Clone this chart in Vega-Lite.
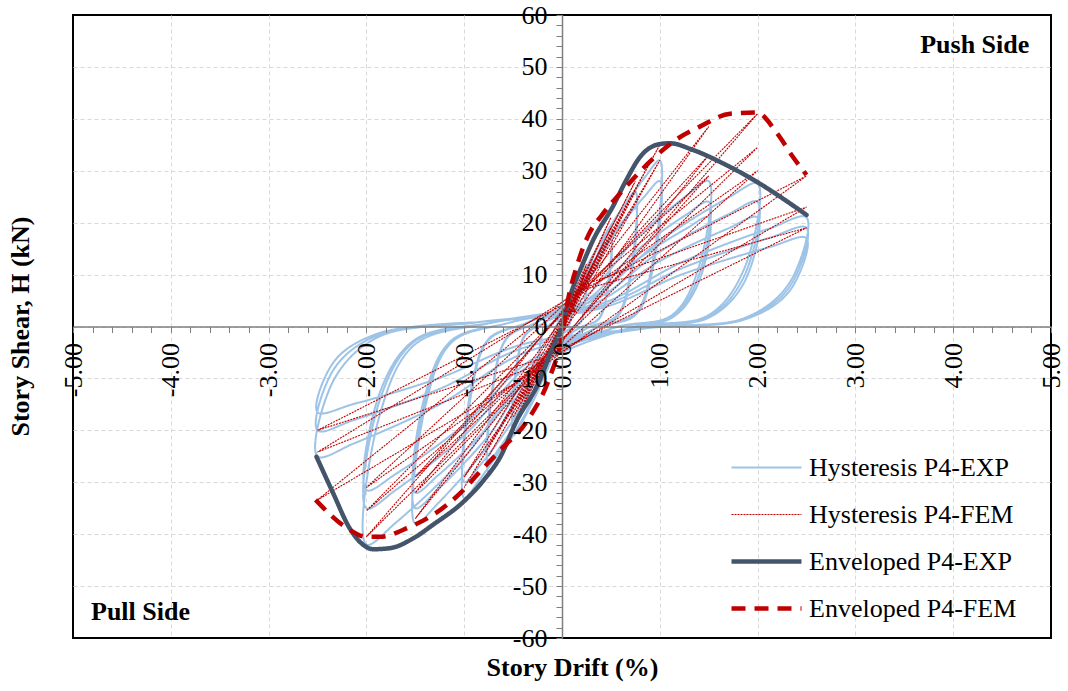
{
  "$schema": "https://vega.github.io/schema/vega-lite/v6.json",
  "width": 978,
  "height": 623,
  "autosize": {"type": "none"},
  "padding": {"left": 73, "top": 15, "right": 17, "bottom": 53},
  "background": "white",
  "config": {"view": {"stroke": "#000000", "strokeWidth": 2}, "font": "Liberation Serif"},
  "resolve": {"axis": {"x": "independent", "y": "independent"}},
  "datasets": {
    "hystExp": [
      {"x":0,"y":0},
      {"x":0.015,"y":1.0},{"x":0.05,"y":3.0},{"x":0.085,"y":4.5},{"x":0.1,"y":5},{"x":0.093,"y":2.0},{"x":0.075,"y":0.4},{"x":0.035,"y":-0.3},{"x":-0.015,"y":-1.0},{"x":-0.05,"y":-3.0},{"x":-0.085,"y":-4.5},{"x":-0.1,"y":-5},{"x":-0.093,"y":-2.0},{"x":-0.075,"y":-0.4},{"x":-0.035,"y":0.8},
      {"x":0.04,"y":2.2},{"x":0.125,"y":6.6},{"x":0.21,"y":9.9},{"x":0.25,"y":11},{"x":0.23,"y":4.4},{"x":0.19,"y":0.9},{"x":0.09,"y":-0.3},{"x":-0.04,"y":-2.4},{"x":-0.125,"y":-7.2},{"x":-0.21,"y":-10.8},{"x":-0.25,"y":-12},{"x":-0.23,"y":-4.8},{"x":-0.19,"y":-1.0},{"x":-0.09,"y":0.8},
      {"x":0.04,"y":2.0},{"x":0.125,"y":6.0},{"x":0.21,"y":9.0},{"x":0.25,"y":10},{"x":0.23,"y":4.0},{"x":0.19,"y":0.8},{"x":0.09,"y":-0.3},{"x":-0.04,"y":-2.2},{"x":-0.125,"y":-6.6},{"x":-0.21,"y":-9.9},{"x":-0.25,"y":-11},{"x":-0.23,"y":-4.4},{"x":-0.19,"y":-0.9},{"x":-0.09,"y":0.8},
      {"x":0.075,"y":3.8},{"x":0.25,"y":11.4},{"x":0.425,"y":17.1},{"x":0.5,"y":19},{"x":0.465,"y":7.6},{"x":0.375,"y":1.5},{"x":0.175,"y":-0.3},{"x":-0.075,"y":-4.2},{"x":-0.25,"y":-12.6},{"x":-0.425,"y":-18.9},{"x":-0.5,"y":-21},{"x":-0.465,"y":-8.4},{"x":-0.375,"y":-1.7},{"x":-0.175,"y":0.8},
      {"x":0.075,"y":3.4},{"x":0.25,"y":10.2},{"x":0.425,"y":15.3},{"x":0.5,"y":17},{"x":0.465,"y":6.8},{"x":0.375,"y":1.4},{"x":0.175,"y":-0.3},{"x":-0.075,"y":-3.8},{"x":-0.25,"y":-11.4},{"x":-0.425,"y":-17.1},{"x":-0.5,"y":-19},{"x":-0.465,"y":-7.6},{"x":-0.375,"y":-1.5},{"x":-0.175,"y":0.8},
      {"x":0.11,"y":5.2},{"x":0.375,"y":15.6},{"x":0.64,"y":23.4},{"x":0.75,"y":26},{"x":0.70,"y":10.4},{"x":0.56,"y":2.1},{"x":0.26,"y":-0.3},{"x":-0.11,"y":-5.6},{"x":-0.375,"y":-16.8},{"x":-0.64,"y":-25.2},{"x":-0.75,"y":-28},{"x":-0.70,"y":-11.2},{"x":-0.56,"y":-2.2},{"x":-0.26,"y":0.8},
      {"x":0.11,"y":4.6},{"x":0.375,"y":13.8},{"x":0.64,"y":20.7},{"x":0.75,"y":23},{"x":0.70,"y":9.2},{"x":0.56,"y":1.8},{"x":0.26,"y":-0.3},{"x":-0.11,"y":-5.2},{"x":-0.375,"y":-15.6},{"x":-0.64,"y":-23.4},{"x":-0.75,"y":-26},{"x":-0.70,"y":-10.4},{"x":-0.56,"y":-2.1},{"x":-0.26,"y":0.8},
      {"x":0.15,"y":6.4},{"x":0.5,"y":19.2},{"x":0.85,"y":28.8},{"x":1.0,"y":32},{"x":0.93,"y":12.8},{"x":0.75,"y":2.6},{"x":0.35,"y":-0.3},{"x":-0.15,"y":-6.6},{"x":-0.5,"y":-19.8},{"x":-0.85,"y":-29.7},{"x":-1.0,"y":-33},{"x":-0.93,"y":-13.2},{"x":-0.75,"y":-2.6},{"x":-0.35,"y":0.8},
      {"x":0.15,"y":5.6},{"x":0.5,"y":16.8},{"x":0.85,"y":25.2},{"x":1.0,"y":28},{"x":0.93,"y":11.2},{"x":0.75,"y":2.2},{"x":0.35,"y":-0.3},{"x":-0.15,"y":-6.0},{"x":-0.5,"y":-18.0},{"x":-0.85,"y":-27.0},{"x":-1.0,"y":-30},{"x":-0.93,"y":-12.0},{"x":-0.75,"y":-2.4},{"x":-0.35,"y":0.8},
      {"x":0.225,"y":5.6},{"x":0.75,"y":16.8},{"x":1.275,"y":25.2},{"x":1.5,"y":28},{"x":1.395,"y":11.2},{"x":1.125,"y":2.2},{"x":0.525,"y":-0.3},{"x":-0.225,"y":-7.6},{"x":-0.75,"y":-22.8},{"x":-1.275,"y":-34.2},{"x":-1.5,"y":-38},{"x":-1.395,"y":-15.2},{"x":-1.125,"y":-3.0},{"x":-0.525,"y":0.8},
      {"x":0.225,"y":4.8},{"x":0.75,"y":14.4},{"x":1.275,"y":21.6},{"x":1.5,"y":24},{"x":1.395,"y":9.6},{"x":1.125,"y":1.9},{"x":0.525,"y":-0.3},{"x":-0.225,"y":-7.0},{"x":-0.75,"y":-21.0},{"x":-1.275,"y":-31.5},{"x":-1.5,"y":-35},{"x":-1.395,"y":-14.0},{"x":-1.125,"y":-2.8},{"x":-0.525,"y":0.8},
      {"x":0.225,"y":4.2},{"x":0.75,"y":12.6},{"x":1.275,"y":18.9},{"x":1.5,"y":21},{"x":1.395,"y":8.4},{"x":1.125,"y":1.7},{"x":0.525,"y":-0.3},{"x":-0.225,"y":-6.4},{"x":-0.75,"y":-19.2},{"x":-1.275,"y":-28.8},{"x":-1.5,"y":-32},{"x":-1.395,"y":-12.8},{"x":-1.125,"y":-2.6},{"x":-0.525,"y":0.8},
      {"x":0.3,"y":5.5},{"x":1.0,"y":16.5},{"x":1.7,"y":24.8},{"x":2.0,"y":27.5},{"x":1.86,"y":11.0},{"x":1.5,"y":2.2},{"x":0.7,"y":-0.3},{"x":-0.3,"y":-8.4},{"x":-1.0,"y":-25.2},{"x":-1.7,"y":-37.8},{"x":-2.0,"y":-42},{"x":-1.86,"y":-16.8},{"x":-1.5,"y":-3.4},{"x":-0.7,"y":0.8},
      {"x":0.3,"y":4.8},{"x":1.0,"y":14.4},{"x":1.7,"y":21.6},{"x":2.0,"y":24},{"x":1.86,"y":9.6},{"x":1.5,"y":1.9},{"x":0.7,"y":-0.3},{"x":-0.3,"y":-7.0},{"x":-1.0,"y":-21.0},{"x":-1.7,"y":-31.5},{"x":-2.0,"y":-35},{"x":-1.86,"y":-14.0},{"x":-1.5,"y":-2.8},{"x":-0.7,"y":0.8},
      {"x":0.3,"y":4.2},{"x":1.0,"y":12.6},{"x":1.7,"y":18.9},{"x":2.0,"y":21},{"x":1.86,"y":8.4},{"x":1.5,"y":1.7},{"x":0.7,"y":-0.3},{"x":-0.3,"y":-6.3},{"x":-1.0,"y":-18.9},{"x":-1.7,"y":-28.4},{"x":-2.0,"y":-31.5},{"x":-1.86,"y":-12.6},{"x":-1.5,"y":-2.5},{"x":-0.7,"y":0.8},
      {"x":0.375,"y":4.2},{"x":1.25,"y":12.6},{"x":2.125,"y":18.9},{"x":2.5,"y":21},{"x":2.325,"y":8.4},{"x":1.875,"y":1.7},{"x":0.875,"y":-0.3},{"x":-0.375,"y":-5.0},{"x":-1.25,"y":-15.0},{"x":-2.125,"y":-22.5},{"x":-2.5,"y":-25},{"x":-2.325,"y":-10.0},{"x":-1.875,"y":-2.0},{"x":-0.875,"y":0.8},
      {"x":0.375,"y":3.8},{"x":1.25,"y":11.4},{"x":2.125,"y":17.1},{"x":2.5,"y":19},{"x":2.325,"y":7.6},{"x":1.875,"y":1.5},{"x":0.875,"y":-0.3},{"x":-0.375,"y":-4.0},{"x":-1.25,"y":-12.0},{"x":-2.125,"y":-18.0},{"x":-2.5,"y":-20},{"x":-2.325,"y":-8.0},{"x":-1.875,"y":-1.6},{"x":-0.875,"y":0.8},
      {"x":0.375,"y":3.4},{"x":1.25,"y":10.2},{"x":2.125,"y":15.3},{"x":2.5,"y":17},{"x":2.325,"y":6.8},{"x":1.875,"y":1.4},{"x":0.875,"y":-0.3},{"x":-0.375,"y":-3.3},{"x":-1.25,"y":-9.9},{"x":-2.125,"y":-14.9},{"x":-2.5,"y":-16.5},{"x":-2.325,"y":-6.6},{"x":-1.875,"y":-1.3},{"x":-0.875,"y":0.8}
    ],
    "hystFem": [
      {"x":0,"y":0},
      {"x":0.1,"y":5},{"x":-0.05,"y":-1},{"x":-0.1,"y":-5},{"x":0.05,"y":1},
      {"x":0.25,"y":12},{"x":-0.08,"y":-2},{"x":-0.25,"y":-11},{"x":0.08,"y":2},
      {"x":0.25,"y":11},{"x":-0.06,"y":-2.5},{"x":-0.25,"y":-10},{"x":0.06,"y":2.5},
      {"x":0.5,"y":21},{"x":-0.1,"y":-3},{"x":-0.5,"y":-19},{"x":0.1,"y":3},
      {"x":0.5,"y":19},{"x":-0.08,"y":-3.5},{"x":-0.5,"y":-17.5},{"x":0.08,"y":3.5},
      {"x":0.75,"y":28},{"x":-0.12,"y":-4},{"x":-0.75,"y":-25},{"x":0.12,"y":4},
      {"x":0.75,"y":26},{"x":-0.1,"y":-4.5},{"x":-0.75,"y":-23},{"x":0.1,"y":4.5},
      {"x":1.0,"y":35},{"x":-0.15,"y":-5},{"x":-1.0,"y":-31},{"x":0.15,"y":5},
      {"x":1.0,"y":32},{"x":-0.12,"y":-5.5},{"x":-1.0,"y":-29},{"x":0.12,"y":5.5},
      {"x":1.5,"y":38.5},{"x":-0.18,"y":-6},{"x":-1.5,"y":-37},{"x":0.18,"y":6},
      {"x":1.5,"y":33},{"x":-0.15,"y":-6.5},{"x":-1.5,"y":-32},{"x":0.15,"y":6.5},
      {"x":1.5,"y":29},{"x":-0.12,"y":-5},{"x":-1.5,"y":-29},{"x":0.12,"y":5},
      {"x":2.0,"y":41},{"x":-0.2,"y":-7},{"x":-2.0,"y":-40.5},{"x":0.2,"y":7},
      {"x":2.0,"y":34.5},{"x":-0.18,"y":-6},{"x":-2.0,"y":-35.5},{"x":0.18,"y":6},
      {"x":2.0,"y":30},{"x":-0.15,"y":-6.5},{"x":-2.0,"y":-31},{"x":0.15,"y":6.5},
      {"x":2.5,"y":29},{"x":-0.22,"y":-8},{"x":-2.5,"y":-33.4},{"x":0.22,"y":8},
      {"x":2.5,"y":23},{"x":-0.2,"y":-7},{"x":-2.5,"y":-24.2},{"x":0.2,"y":7},
      {"x":2.5,"y":19},{"x":-0.18,"y":-6},{"x":-2.5,"y":-20},{"x":0.1,"y":5}
    ],
    "envExp": [
      {"x":-2.51,"y":-25.1},{"x":-2.34,"y":-32.1},{"x":-2.17,"y":-38.9},{"x":-2.03,"y":-42.1},{"x":-1.93,"y":-42.9},{"x":-1.76,"y":-42.7},{"x":-1.52,"y":-40.8},{"x":-1.32,"y":-38.2},{"x":-1.01,"y":-33.8},{"x":-0.80,"y":-29.6},{"x":-0.63,"y":-25.1},{"x":-0.46,"y":-18.0},{"x":-0.24,"y":-10.9},{"x":-0.105,"y":-4.5},{"x":0,"y":0},{"x":0.08,"y":5.7},{"x":0.2,"y":11.5},{"x":0.32,"y":16.7},{"x":0.52,"y":23.1},{"x":0.66,"y":28.3},{"x":0.80,"y":32.7},{"x":0.97,"y":35.0},{"x":1.10,"y":35.3},{"x":1.34,"y":34.0},{"x":1.68,"y":31.1},{"x":1.99,"y":27.9},{"x":2.23,"y":25.0},{"x":2.50,"y":21.5}
    ],
    "envFem": [
      {"x":-2.52,"y":-33.4},{"x":-2.2,"y":-38.8},{"x":-2.0,"y":-40.5},{"x":-1.86,"y":-40.5},{"x":-1.58,"y":-38.8},{"x":-1.32,"y":-36.3},{"x":-1.04,"y":-32.1},{"x":-0.84,"y":-28.0},{"x":-0.63,"y":-23.8},{"x":-0.35,"y":-18.0},{"x":-0.12,"y":-9.5},{"x":0,"y":-2},{"x":0.06,"y":5},{"x":0.15,"y":11.5},{"x":0.27,"y":17.6},{"x":0.41,"y":21.5},{"x":0.64,"y":26.6},{"x":0.88,"y":31.4},{"x":1.16,"y":35.9},{"x":1.41,"y":38.5},{"x":1.72,"y":41.0},{"x":1.99,"y":41.2},{"x":2.2,"y":37.2},{"x":2.36,"y":32.7},{"x":2.5,"y":29.2}
    ],
    "marker": [{"x":0.08,"y":3.8}],
    "notes": [{"x":4.22,"y":54.2,"t":"Push Side"},{"x":-4.31,"y":-55.0,"t":"Pull Side"}]
  },
  "encoding": {
    "x": {"field": "x", "type": "quantitative", "scale": {"domain": [-5, 5], "nice": false, "zero": false}, "axis": null},
    "y": {"field": "y", "type": "quantitative", "scale": {"domain": [-60, 60], "nice": false, "zero": false}, "axis": null}
  },
  "layer": [
    {
      "data": {"name": "hystExp"},
      "mark": {"type": "line", "interpolate": "catmull-rom", "strokeJoin": "round"},
      "encoding": {
        "x": {"field": "x", "type": "quantitative", "scale": {"domain": [-5, 5], "nice": false, "zero": false},
          "axis": {"orient": "bottom", "zindex": 0, "values": [-4,-3,-2,-1,0,1,2,3,4], "grid": true, "gridColor": "#D9D9D9", "gridDash": [4, 3], "gridWidth": 1, "labels": false, "ticks": false, "domain": false, "title": null}},
        "y": {"field": "y", "type": "quantitative", "scale": {"domain": [-60, 60], "nice": false, "zero": false},
          "axis": {"orient": "left", "zindex": 0, "values": [-50,-40,-30,-20,-10,0,10,20,30,40,50], "grid": true, "gridColor": "#D9D9D9", "gridDash": [4, 3], "gridWidth": 1, "labels": false, "ticks": false, "domain": false, "title": null}},
        "order": {"value": null},
        "color": {"datum": "Hysteresis P4-EXP", "type": "nominal",
          "scale": {"domain": ["Hysteresis P4-EXP", "Hysteresis P4-FEM", "Enveloped P4-EXP", "Enveloped P4-FEM"], "range": ["#9DC3E6", "#C00000", "#44546A", "#C00000"]},
          "legend": {"title": null, "orient": "none", "legendX": 656, "legendY": 429, "symbolType": "stroke", "symbolSize": 4900, "clipHeight": 47, "labelFont": "Liberation Serif", "labelFontSize": 26, "labelColor": "#000000", "labelOffset": 5, "rowPadding": 0, "labelLimit": 400}},
        "strokeDash": {"datum": "Hysteresis P4-EXP", "type": "nominal",
          "scale": {"domain": ["Hysteresis P4-EXP", "Hysteresis P4-FEM", "Enveloped P4-EXP", "Enveloped P4-FEM"], "range": [[1, 0], [2, 1], [1, 0], [14, 9]]}},
        "strokeWidth": {"datum": "Hysteresis P4-EXP", "type": "nominal",
          "scale": {"type": "ordinal", "domain": ["Hysteresis P4-EXP", "Hysteresis P4-FEM", "Enveloped P4-EXP", "Enveloped P4-FEM"], "range": [2, 1.1, 4.5, 4.5]}}
      }
    },
    {
      "data": {"name": "hystFem"},
      "mark": {"type": "line", "interpolate": "linear"},
      "encoding": {
        "x": {"field": "x", "type": "quantitative", "scale": {"domain": [-5, 5], "nice": false, "zero": false},
          "axis": {
            "orient": "bottom", "offset": -311.5, "zindex": 1, "grid": false,
            "values": [-5,-4.8,-4.6,-4.4,-4.2,-4,-3.8,-3.6,-3.4,-3.2,-3,-2.8,-2.6,-2.4,-2.2,-2,-1.8,-1.6,-1.4,-1.2,-1,-0.8,-0.6,-0.4,-0.2,0,0.2,0.4,0.6,0.8,1,1.2,1.4,1.6,1.8,2,2.2,2.4,2.6,2.8,3,3.2,3.4,3.6,3.8,4,4.2,4.4,4.6,4.8,5],
            "labelExpr": "datum.value % 1 === 0 ? (datum.value < 0 ? '-' : '') + format(abs(datum.value), '.2f') : ''",
            "labelAngle": 270, "labelAlign": "right", "labelBaseline": "middle",
            "labelFont": "Liberation Serif", "labelFontSize": 26, "labelColor": "#000000",
            "labelPadding": 10, "labelFlush": false, "labelOverlap": false,
            "tickSize": 6, "tickColor": "#7F7F7F", "tickWidth": 1,
            "domainColor": "#7F7F7F", "domainWidth": 1.5,
            "title": "Story Drift (%)", "titleFont": "Liberation Serif", "titleFontSize": 26,
            "titleFontWeight": "bold", "titleColor": "#000000",
            "titleX": 499, "titleY": 341, "titleAlign": "center", "titleBaseline": "middle"
          }
        },
        "y": {"field": "y", "type": "quantitative", "scale": {"domain": [-60, 60], "nice": false, "zero": false},
          "axis": {
            "orient": "left", "offset": -489, "zindex": 1, "grid": false,
            "values": [-60,-58,-56,-54,-52,-50,-48,-46,-44,-42,-40,-38,-36,-34,-32,-30,-28,-26,-24,-22,-20,-18,-16,-14,-12,-10,-8,-6,-4,-2,0,2,4,6,8,10,12,14,16,18,20,22,24,26,28,30,32,34,36,38,40,42,44,46,48,50,52,54,56,58,60],
            "labelExpr": "datum.value % 10 === 0 ? (datum.value < 0 ? '-' : '') + abs(datum.value) : ''",
            "labelFont": "Liberation Serif", "labelFontSize": 26, "labelColor": "#000000",
            "labelPadding": 9, "labelFlush": false, "labelOverlap": false,
            "tickSize": 6, "tickColor": "#7F7F7F", "tickWidth": 1,
            "domainColor": "#7F7F7F", "domainWidth": 1.5,
            "title": "Story Shear, H (kN)", "titleFont": "Liberation Serif", "titleFontSize": 26,
            "titleFontWeight": "bold", "titleColor": "#000000", "titleAngle": 270,
            "titleX": -542, "titleY": 311, "titleAlign": "center", "titleBaseline": "middle"
          }
        },
        "order": {"value": null},
        "color": {"datum": "Hysteresis P4-FEM", "type": "nominal",
          "scale": {"domain": ["Hysteresis P4-EXP", "Hysteresis P4-FEM", "Enveloped P4-EXP", "Enveloped P4-FEM"], "range": ["#9DC3E6", "#C00000", "#44546A", "#C00000"]}},
        "strokeDash": {"datum": "Hysteresis P4-FEM", "type": "nominal",
          "scale": {"domain": ["Hysteresis P4-EXP", "Hysteresis P4-FEM", "Enveloped P4-EXP", "Enveloped P4-FEM"], "range": [[1, 0], [2, 1], [1, 0], [14, 9]]}},
        "strokeWidth": {"datum": "Hysteresis P4-FEM", "type": "nominal",
          "scale": {"type": "ordinal", "domain": ["Hysteresis P4-EXP", "Hysteresis P4-FEM", "Enveloped P4-EXP", "Enveloped P4-FEM"], "range": [2, 1.1, 4.5, 4.5]}}
      }
    },
    {
      "data": {"name": "envExp"},
      "mark": {"type": "line", "interpolate": "monotone", "strokeCap": "round"},
      "encoding": {
        "order": {"value": null},
        "color": {"datum": "Enveloped P4-EXP", "type": "nominal",
          "scale": {"domain": ["Hysteresis P4-EXP", "Hysteresis P4-FEM", "Enveloped P4-EXP", "Enveloped P4-FEM"], "range": ["#9DC3E6", "#C00000", "#44546A", "#C00000"]}},
        "strokeDash": {"datum": "Enveloped P4-EXP", "type": "nominal",
          "scale": {"domain": ["Hysteresis P4-EXP", "Hysteresis P4-FEM", "Enveloped P4-EXP", "Enveloped P4-FEM"], "range": [[1, 0], [2, 1], [1, 0], [14, 9]]}},
        "strokeWidth": {"datum": "Enveloped P4-EXP", "type": "nominal",
          "scale": {"type": "ordinal", "domain": ["Hysteresis P4-EXP", "Hysteresis P4-FEM", "Enveloped P4-EXP", "Enveloped P4-FEM"], "range": [2, 1.1, 4.5, 4.5]}}
      }
    },
    {
      "data": {"name": "envFem"},
      "mark": {"type": "line", "interpolate": "monotone"},
      "encoding": {
        "order": {"value": null},
        "color": {"datum": "Enveloped P4-FEM", "type": "nominal",
          "scale": {"domain": ["Hysteresis P4-EXP", "Hysteresis P4-FEM", "Enveloped P4-EXP", "Enveloped P4-FEM"], "range": ["#9DC3E6", "#C00000", "#44546A", "#C00000"]}},
        "strokeDash": {"datum": "Enveloped P4-FEM", "type": "nominal",
          "scale": {"domain": ["Hysteresis P4-EXP", "Hysteresis P4-FEM", "Enveloped P4-EXP", "Enveloped P4-FEM"], "range": [[1, 0], [2, 1], [1, 0], [14, 9]]}},
        "strokeWidth": {"datum": "Enveloped P4-FEM", "type": "nominal",
          "scale": {"type": "ordinal", "domain": ["Hysteresis P4-EXP", "Hysteresis P4-FEM", "Enveloped P4-EXP", "Enveloped P4-FEM"], "range": [2, 1.1, 4.5, 4.5]}}
      }
    },
    {
      "data": {"name": "marker"},
      "mark": {"type": "point", "shape": "triangle-up", "filled": false, "stroke": "#C00000", "strokeWidth": 1.5, "size": 110, "opacity": 1}
    },
    {
      "data": {"name": "notes"},
      "mark": {"type": "text", "font": "Liberation Serif", "fontSize": 26, "fontWeight": "bold", "color": "#000000", "align": "center", "baseline": "middle"},
      "encoding": {"text": {"field": "t", "type": "nominal"}}
    }
  ]
}
